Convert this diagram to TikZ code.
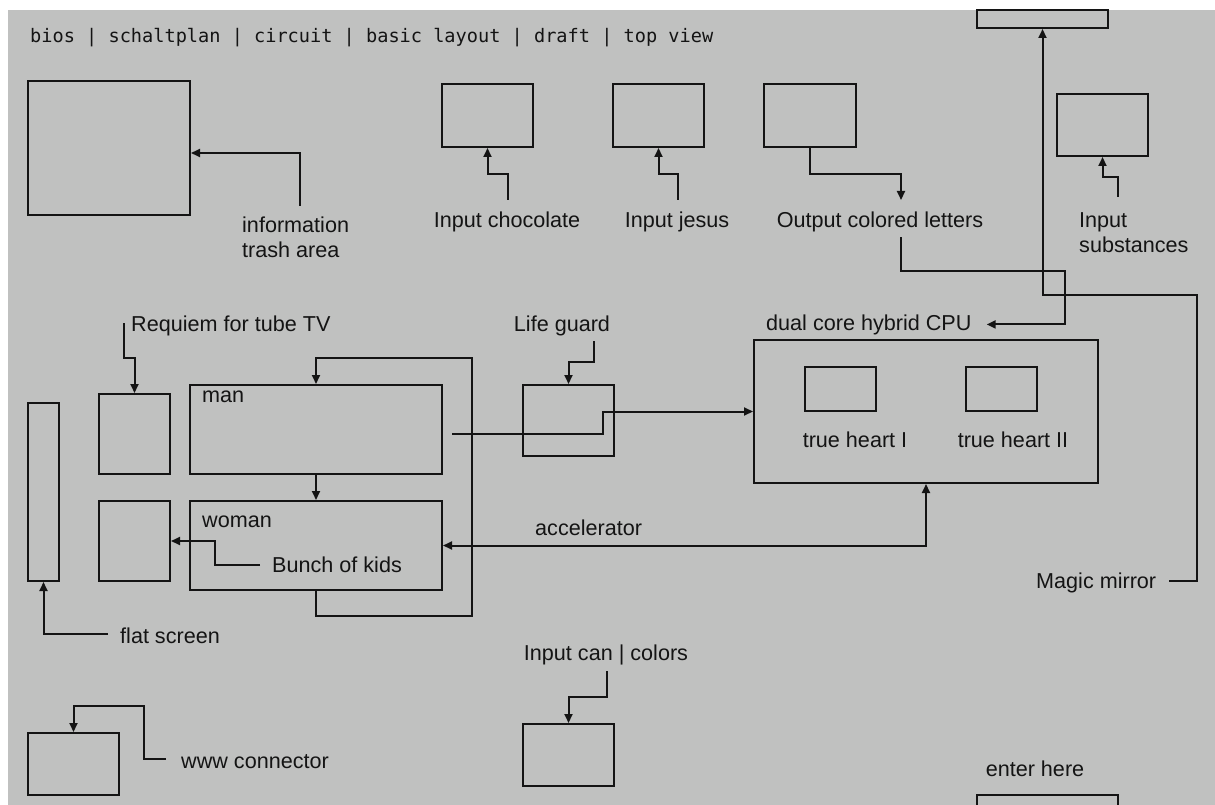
\documentclass[tikz,border=0pt]{standalone}
\usepackage{fontspec}
\usepackage{xcolor}
\usepackage{tikz}
\usetikzlibrary{arrows.meta,positioning,calc}
\newfontfamily\lblfont{Liberation Sans}
\newfontfamily\ttlfont{DejaVu Sans Mono}
\definecolor{bggray}{HTML}{C0C1C0}
\definecolor{ink}{HTML}{141414}

\begin{document}
\begin{tikzpicture}[
  x=1pt, y=-1pt,
  box/.style={draw=ink, line width=2pt, inner sep=0pt},
  sz/.style 2 args={minimum width=#1pt, minimum height=#2pt},
  lbl/.style={font=\lblfont\fontsize{21.6pt}{25pt}\selectfont, text=ink, inner sep=0pt},
  ttl/.style={font=\ttlfont\fontsize{18.6pt}{22pt}\selectfont, text=ink, inner sep=0pt},
  wire/.style={draw=ink, line width=2pt},
  arr/.style={wire, -{Triangle[length=9pt,width=8pt]}},
  arrboth/.style={wire, {Triangle[length=9pt,width=8pt]}-{Triangle[length=9pt,width=8pt]}},
]
\useasboundingbox (0,0) rectangle (1215,805);
\clip (0,0) rectangle (1215,805);
\fill[bggray] (8,10) rectangle (1215,805);
\node[ttl, anchor=base west] (title) at (30,43) {bios | schaltplan | circuit | basic layout | draft | top view};
% --- top row ---
\node[box, sz={162}{134}] (trash) at (109,148) {};
\node[box, sz={91}{63}] (choc) at (487.5,115.5) {};
\node[box, sz={91}{63}] (jesus) at (658.5,115.5) {};
\node[box, sz={92}{63}] (letters) at (810,115.5) {};
\node[box, sz={131}{18}] (mirror) at (1042.5,19) {};
\node[box, sz={91}{62}] (subst) at (1102.5,125) {};
\node[lbl, anchor=north west, align=left] (trashlbl) at (242,216.5) {information\\trash area};
\node[lbl, anchor=base] (choclbl) at (507,227) {Input chocolate};
\node[lbl, anchor=base] (jesuslbl) at (677,227) {Input jesus};
\node[lbl, anchor=base] (letterslbl) at (880,227) {Output colored letters};
\node[lbl, anchor=north west, align=left] (substlbl) at (1079,212.5) {Input\\substances};
% --- middle ---
\node[box, sz={31}{178}] (flat) at (43.5,492) {};
\node[box, sz={71}{80}] (tube) at (134.5,434) {};
\node[box, sz={71}{80}] (kids) at (134.5,541) {};
\node[box, sz={252}{89}] (man) at (316,429.5) {};
\node[box, sz={252}{89}] (woman) at (316,545.5) {};
\node[box, sz={91}{71}] (guard) at (568.5,420.5) {};
\node[box, sz={344}{143}] (cpu) at (926,411.5) {};
\node[box, sz={71}{44}] (heartA) at (840.5,389) {};
\node[box, sz={71}{44}] (heartB) at (1001.5,389) {};
\node[lbl, anchor=base west] (tubelbl) at (131,331) {Requiem for tube TV};
\node[lbl, anchor=base] (guardlbl) at (562,331) {Life guard};
\node[lbl, anchor=base west] (cpulbl) at (766,330) {dual core hybrid CPU};
\node[lbl, anchor=base west] (manlbl) at (202,402) {man};
\node[lbl, anchor=base west] (womanlbl) at (202,527) {woman};
\node[lbl, anchor=base west] (kidslbl) at (272,572) {Bunch of kids};
\node[lbl, anchor=base west] (accellbl) at (535,535) {accelerator};
\node[lbl, anchor=base] (heartAlbl) at (855,447) {true heart I};
\node[lbl, anchor=base] (heartBlbl) at (1013,447) {true heart II};
\node[lbl, anchor=base west] (mirrorlbl) at (1036,588) {Magic mirror};
\node[lbl, anchor=base west] (flatlbl) at (120,643) {flat screen};
% --- bottom ---
\node[box, sz={91}{62}] (www) at (73.5,764) {};
\node[box, sz={91}{62}] (can) at (568.5,755) {};
\node[box, sz={141}{40}] (enter) at (1047.5,815) {};
\node[lbl, anchor=base west] (wwwlbl) at (181,768) {www connector};
\node[lbl, anchor=base] (canlbl) at (606,660) {Input can | colors};
\node[lbl, anchor=base] (enterlbl) at (1035,776) {enter here};
% --- free ends next to labels ---
\coordinate (trashsrc) at (300,206);
\coordinate (chocsrc) at (508,200);
\coordinate (jesussrc) at (678,200);
\coordinate (lettersdst) at (901,200);
\coordinate (letterssrc) at (901,237);
\coordinate (substsrc) at (1118,197);
\coordinate (tubesrc) at (124,323);
\coordinate (guardsrc) at (594,341);
\coordinate (mansrc) at (452,434);
\coordinate (kidssrc) at (260,565);
\coordinate (mirrorsrc) at (1169,581);
\coordinate (flatsrc) at (108,634);
\coordinate (wwwsrc) at (166,759);
\coordinate (cansrc) at (607,671);
% --- inputs from above ---
\draw[arr] (trashsrc) |- ([yshift=-5pt]trash.east);
\draw[arr] (chocsrc) |- (487.5,174) -- (choc.south);
\draw[arr] (jesussrc) |- (658.5,174) -- (jesus.south);
\draw[arr] (substsrc) |- (1102.5,177) -- (subst.south);
\draw[arr] (letters.south) |- (901,174) -- (lettersdst);
\draw[arr] (letterssrc) |- (1065,271) |- ([xshift=15pt]cpulbl.east);
\draw[arr] (mirrorsrc) -| (1197,295) -| (mirror.south);
% --- family block ---
\draw[arr] (tubesrc) |- (134.5,358) -- (tube.north);
\draw[arr] (man.south) -- (woman.north);
\draw[arr] (woman.south) |- (472,616) |- (316,358) -- (man.north);
\draw[arr] (kidssrc) -| (215,541) -- (kids.east);
\draw[arr] (flatsrc) -| (flat.south);
% --- to the cpu ---
\draw[arr] (guardsrc) |- (568.5,362) -- (guard.north);
\draw[arr] (mansrc) -- (603,434) |- (cpu.west);
\draw[arrboth] (cpu.south) |- (woman.east);
% --- bottom row ---
\draw[arr] (wwwsrc) -| (144,706) -| (www.north);
\draw[arr] (cansrc) |- (568.5,697) -- (can.north);
\end{tikzpicture}
\end{document}
